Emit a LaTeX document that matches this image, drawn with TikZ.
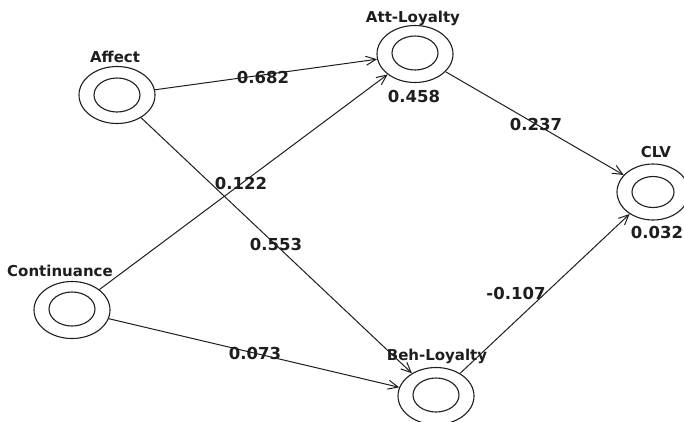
\documentclass[tikz,border=0pt]{standalone}
\usepackage{fontspec}
\setmainfont{DejaVu Sans}
\usetikzlibrary{shapes.geometric,arrows.meta}
\definecolor{ink}{HTML}{1E1E1E}
\tikzset{
  lv/.style={ellipse,draw=ink,line width=1.1pt,minimum width=76pt,minimum height=57pt,inner sep=0pt},
  lvin/.style={ellipse,draw=ink,line width=1.1pt,minimum width=46pt,minimum height=34pt,inner sep=0pt},
  lbl/.style={font=\fontsize{15}{17}\selectfont\bfseries,text=ink,inner sep=0pt},
  num/.style={font=\fontsize{16.5}{18}\selectfont\bfseries,text=ink,inner sep=0pt},
  path/.style={draw=ink,line width=1pt,-{Straight Barb[length=10pt,width=9pt]}},
}
\begin{document}
\begin{tikzpicture}[x=1pt,y=-1pt]
\useasboundingbox[fill=white] (0,0) rectangle (684,421);

% latent variables (double rings)
\node[lv]   (affect)    at (117,95)  {};
\node[lvin] (affect-in) at (117,95)  {};
\node[lv]   (att)       at (415,54)  {};
\node[lvin] (att-in)    at (415,53)  {};
\node[lv,minimum width=72pt,minimum height=56pt] (clv) at (653,192) {};
\node[lvin,minimum width=42pt,minimum height=31pt] (clv-in) at (653,192) {};
\node[lv]   (cont)      at (72,310)  {};
\node[lvin] (cont-in)   at (72,309)  {};
\node[lv]   (beh)       at (436,396) {};
\node[lvin] (beh-in)    at (436,395) {};

% variable names
\node[lbl] (affect-t) at (115,57)  {Affect};
\node[lbl] (att-t)    at (413,18)  {Att-Loyalty};
\node[lbl] (clv-t)    at (656,152) {CLV};
\node[lbl] (cont-t)   at (60,271)  {Continuance};
\node[lbl] (beh-t)    at (437,356) {Beh-Loyalty};

% R-squared values
\node[num] (att-r)  at (414,96)  {0.458};
\node[num] (clv-r)  at (657,232) {0.032};

% structural paths
\draw[path] (affect) -- (att);
\draw[path] (cont)   -- (att);
\draw[path] (affect) -- (beh);
\draw[path] (cont)   -- (beh);
\draw[path] (att)    -- (clv);
\draw[path] (beh)    -- (clv);

% path coefficients
\node[num] (c1) at (263,77)  {0.682};
\node[num] (c2) at (241,183) {0.122};
\node[num] (c3) at (276,244) {0.553};
\node[num] (c4) at (255,353) {0.073};
\node[num] (c5) at (536,124) {0.237};
\node[num] (c6) at (516,293) {-0.107};
\end{tikzpicture}
\end{document}
